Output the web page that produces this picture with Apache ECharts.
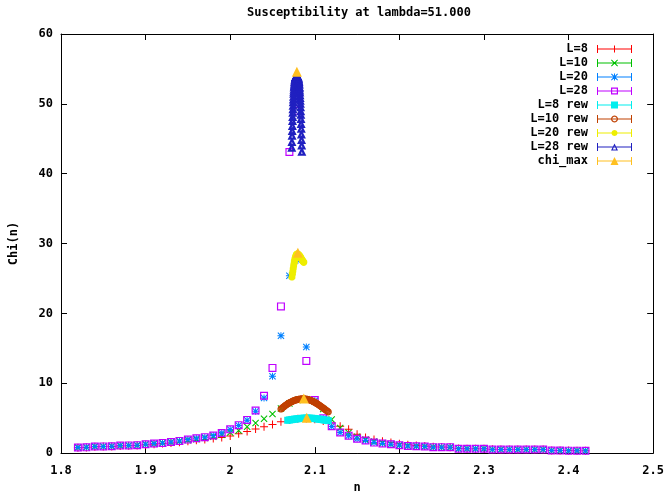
<!DOCTYPE html>
<html><head><meta charset="utf-8">
<script src="https://cdn.jsdelivr.net/npm/echarts@6/dist/echarts.min.js"></script>
<style>html,body{margin:0;padding:0;background:#fff}#c{width:667px;height:499px}</style>
</head><body><div id="c"></div>
<script>
// ---------------- data ----------------
const TITLE = 'Susceptibility at lambda=51.000';
const X_NAME = 'n';
const Y_NAME = 'Chi(n)';
const X_MIN = 1.8, X_MAX = 2.5, X_STEP = 0.1;
const Y_MIN = 0, Y_MAX = 60, Y_STEP = 10;

const N = [1.82,1.83,1.84,1.85,1.86,1.87,1.88,1.89,1.90,1.91,
           1.92,1.93,1.94,1.95,1.96,1.97,1.98,1.99,2.00,2.01,
           2.02,2.03,2.04,2.05,2.06,2.07,2.08,2.09,2.10,2.11,
           2.12,2.13,2.14,2.15,2.16,2.17,2.18,2.19,2.20,2.21,
           2.22,2.23,2.24,2.25,2.26,2.27,2.28,2.29,2.30,2.31,
           2.32,2.33,2.34,2.35,2.36,2.37,2.38,2.39,2.40,2.41,2.42];

const L8 = [0.78,0.80,0.92,0.93,0.94,1.03,1.06,1.09,1.20,1.28,
            1.36,1.46,1.57,1.70,1.83,1.96,2.10,2.25,2.45,2.78,
            3.10,3.45,3.77,4.10,4.50,4.75,4.90,4.95,4.85,4.60,
            4.30,3.85,3.40,2.70,2.25,1.95,1.70,1.50,1.33,1.20,
            1.08,1.00,0.90,0.87,0.85,0.66,0.63,0.62,0.61,0.54,
            0.53,0.52,0.52,0.51,0.51,0.50,0.39,0.37,0.36,0.35,0.34];

const L10 = [0.80,0.82,0.94,0.95,0.97,1.06,1.09,1.13,1.25,1.34,
             1.43,1.55,1.68,1.84,2.00,2.15,2.35,2.62,2.95,3.25,
             3.77,4.30,4.90,5.60,6.40,7.10,7.60,7.70,7.40,6.30,
             4.80,3.60,2.90,2.35,1.95,1.65,1.45,1.30,1.17,1.06,
             1.00,0.96,0.87,0.85,0.84,0.64,0.62,0.62,0.61,0.53,
             0.52,0.52,0.52,0.52,0.51,0.50,0.38,0.36,0.35,0.35,0.33];

const L20 = [0.80,0.82,0.95,0.96,0.97,1.08,1.10,1.14,1.27,1.37,
             1.46,1.60,1.75,1.93,2.12,2.28,2.52,2.87,3.38,3.95,
             4.70,6.00,7.90,11.0,16.8,25.4,27.6,15.2,7.50,4.90,
             3.82,2.95,2.50,2.05,1.80,1.50,1.37,1.27,1.13,1.03,
             0.97,0.95,0.85,0.85,0.85,0.62,0.62,0.62,0.62,0.52,
             0.52,0.52,0.52,0.52,0.52,0.50,0.38,0.36,0.35,0.35,0.33];

const L28 = [0.80,0.82,0.95,0.96,0.97,1.08,1.10,1.14,1.27,1.37,
             1.46,1.60,1.75,1.93,2.12,2.28,2.52,2.87,3.40,4.00,
             4.75,6.10,8.20,12.2,21.0,43.1,49.0,13.2,7.60,5.00,
             3.85,2.95,2.50,2.05,1.80,1.50,1.37,1.27,1.13,1.03,
             0.97,0.95,0.85,0.85,0.85,0.62,0.62,0.62,0.62,0.52,
             0.52,0.52,0.52,0.52,0.52,0.50,0.38,0.36,0.35,0.35,0.33];

// reweighted curves
const N8R = [2.068,2.070,2.072,2.074,2.076,2.078,2.080,2.082,2.084,2.086,2.088,2.090,2.092,
             2.094,2.096,2.098,2.100,2.102,2.104,2.106,2.108,2.110,2.112,2.114,2.116];
const L8R = [4.70,4.74,4.78,4.82,4.86,4.89,4.92,4.95,4.97,4.99,5.00,5.01,5.01,
             5.00,4.99,4.97,4.94,4.91,4.88,4.85,4.81,4.77,4.73,4.69,4.65];

const N10R = [2.060,2.061,2.062,2.063,2.064,2.065,2.066,2.067,2.068,2.069,
              2.070,2.071,2.072,2.073,2.074,2.075,2.076,2.077,2.078,2.079,
              2.080,2.081,2.082,2.083,2.084,2.085,2.086,2.087,2.088,2.089,
              2.090,2.091,2.092,2.093,2.094,2.095,2.096,2.097,2.098,2.099,
              2.100,2.101,2.102,2.103,2.104,2.105,2.106,2.107,2.108,2.109,
              2.110,2.111,2.112,2.113,2.114,2.115,2.116];
const L10R = [6.30,6.40,6.50,6.60,6.70,6.79,6.88,6.96,7.04,7.12,
              7.19,7.26,7.32,7.38,7.44,7.49,7.54,7.58,7.62,7.65,
              7.68,7.70,7.72,7.74,7.75,7.76,7.76,7.76,7.75,7.74,
              7.72,7.70,7.67,7.64,7.60,7.56,7.51,7.46,7.40,7.34,
              7.27,7.20,7.12,7.04,6.96,6.88,6.80,6.71,6.62,6.53,
              6.44,6.35,6.26,6.17,6.08,5.99,5.90];

const N20R = [2.0730,2.0735,2.0740,2.0745,2.0750,2.0755,2.0760,2.0765,2.0770,2.0775,2.0780,2.0785,2.0790,2.0795,2.0800,
              2.0805,2.0810,2.0815,2.0820,2.0825,2.0830,2.0835,2.0840,2.0845,2.0850,2.0855,2.0860,2.0865,2.0870];
const L20R = [25.2,25.6,26.0,26.4,26.8,27.15,27.45,27.75,28.0,28.2,28.35,28.45,28.5,28.52,28.5,
              28.46,28.4,28.33,28.25,28.16,28.06,27.96,27.86,27.76,27.66,27.56,27.47,27.38,27.3];

const N28R = [
 2.07280,2.07297,2.07314,2.07331,2.07348,2.07365,2.07382,2.07399,2.07416,2.07433,
 2.07450,2.07467,2.07484,2.07501,2.07518,2.07535,2.07552,2.07569,2.07586,2.07603,
 2.07620,2.07637,2.07654,2.07671,2.07688,2.07705,2.07722,2.07739,2.07756,2.07773,
 2.07790,2.07807,2.07824,2.07841,2.07858,2.07875,2.07892,2.07909,2.07926,2.07943,
 2.07960,2.07977,2.07994,2.08011,2.08028,2.08045,2.08062,2.08079,2.08096,2.08113,
 2.08130,2.08147,2.08164,2.08181,2.08198,2.08215,2.08232,2.08249,2.08266,2.08283,
 2.08300,2.08317,2.08334,2.08351,2.08368,2.08385,2.08402,2.08419,2.08436,2.08453,
 2.08470];
const L28R = [
 43.8,44.6,45.5,46.2,46.9,47.6,48.2,48.8,49.3,49.8,
 50.3,50.7,51.1,51.5,51.8,52.1,52.4,52.6,52.8,53.0,
 53.2,53.3,53.5,53.6,53.7,53.8,53.8,53.9,53.9,53.9,
 54.0,54.0,54.0,54.0,54.0,54.0,54.0,54.0,54.0,54.0,
 54.0,53.9,53.9,53.9,53.8,53.7,53.7,53.6,53.4,53.3,
 53.2,53.0,52.8,52.5,52.3,52.0,51.7,51.3,50.9,50.5,
 50.1,49.6,49.0,48.5,47.9,47.2,46.5,45.7,44.9,44.1,
 43.2];

const NMAX = [2.0905, 2.0870, 2.0800, 2.0788];
const CHIMAX = [5.05, 7.80, 28.7, 54.6];

const NAMES = ['L=8','L=10','L=20','L=28','L=8 rew','L=10 rew','L=20 rew','L=28 rew','chi_max'];
const COLORS = ['#ff0000','#00c000','#0080ff','#c000ff','#00eeee','#c04000','#eeee00','#2020c0','#ffc020'];

// ---------------- marker shapes (filled paths) ----------------
function f(v){return (Math.round(v*100)/100).toString();}
function poly(p){return 'M'+p.map(q=>f(q[0])+','+f(q[1])).join('L')+'Z';}
function rect(x,y,w,h){return poly([[x,y],[x+w,y],[x+w,y+h],[x,y+h]]);}
function circ(cx,cy,r,rev){const a=[];const n=20;for(let k=0;k<n;k++){const t=(rev?-1:1)*2*Math.PI*k/n;a.push([cx+r*Math.cos(t),cy+r*Math.sin(t)]);}return a;}
function otriT(x,y,s,t){return poly([[x+s/2,y],[x+s,y+s],[x,y+s]])+poly([[x+s/2,y+2.2*t],[x+1.8*t,y+s-t],[x+s-1.8*t,y+s-t]]);}
const SHAPES = {
  plus:(x,y,s)=>rect(x,y+s/2-0.5,s,1)+rect(x+s/2-0.5,y,1,s),
  cross:(x,y,s)=>{const d=0.75;return poly([[x,y+d],[x+d,y],[x+s,y+s-d],[x+s-d,y+s]])+poly([[x+s-d,y],[x+s,y+d],[x+d,y+s],[x,y+s-d]]);},
  star:(x,y,s)=>SHAPES.plus(x,y,s)+SHAPES.cross(x,y,s),
  osq:(x,y,s)=>{const t=1.2;return rect(x,y,s,s)+poly([[x+t,y+t],[x+t,y+s-t],[x+s-t,y+s-t],[x+s-t,y+t]]);},
  fsq:(x,y,s)=>rect(x,y,s,s),
  ocirc:(x,y,s)=>poly(circ(x+s/2,y+s/2,s/2,false))+poly(circ(x+s/2,y+s/2,s/2-1.2,true)),
  fcirc:(x,y,s)=>poly(circ(x+s/2,y+s/2,s/2,false)),
  otri:(x,y,s)=>otriT(x,y,s,1),
  ftri:(x,y,s)=>poly([[x+s/2,y],[x+s,y+s],[x,y+s]])
};
const MARK = ['plus','cross','star','osq','fsq','ocirc','fcirc','otri','ftri'];
const MSIZE = [8,7,7,8,7,7,7,9,10];
const LSIZE = [7,7,7,7,7,7,6,7,8];

function legendIcon(i){
  const W=35,H=8,s=LSIZE[i];
  const base = rect(0,0,1,H)+rect(W-1,0,1,H)+rect(0,H/2-0.5,W,1);
  return 'path://'+base+SHAPES[MARK[i]](W/2-s/2,H/2-s/2,s);
}
function markerPath(i){
  if (MARK[i]==='otri') return 'path://'+otriT(0,0,MSIZE[i],2.1);
  return 'path://'+SHAPES[MARK[i]](0,0,MSIZE[i]);
}

const XS = [N,N,N,N,N8R,N10R,N20R,N28R,NMAX];
const YS = [L8,L10,L20,L28,L8R,L10R,L20R,L28R,CHIMAX];

const FONT = 'DejaVu Sans Mono';
const txt = {color:'#000',fontFamily:FONT,fontSize:12,fontWeight:'bold'};

const series = NAMES.map((nm,i)=>({
  name:nm, type:'scatter', silent:true,
  symbol:markerPath(i),
  symbolSize:MSIZE[i],
  itemStyle:{color:COLORS[i],opacity:1},
  data:XS[i].map((x,k)=>[x,YS[i][k]])
}));

function axisCommon(){
  return {axisLine:{show:true,onZero:false,lineStyle:{color:'#000',width:1}},
          axisTick:{show:true,inside:true,length:6,lineStyle:{color:'#000',width:1}},
          splitLine:{show:false}};
}

const chart = echarts.init(document.getElementById('c'),null,{renderer:'canvas'});
chart.setOption({
  animation:false,
  backgroundColor:'#fff',
  title:{text:TITLE,left:242,top:2,textStyle:Object.assign({},txt)},
  grid:{left:58,right:13,top:34,bottom:40,containLabel:false},
  legend:{orient:'vertical',right:30,top:38,align:'right',itemWidth:35,itemHeight:8,itemGap:2,
    selectedMode:false,textStyle:Object.assign({padding:[0,4,0,0]},txt),
    data:NAMES.map((nm,i)=>({name:nm,icon:legendIcon(i),itemStyle:{color:COLORS[i],borderWidth:0}}))},
  xAxis:[
    Object.assign(axisCommon(),{type:'value',position:'bottom',min:X_MIN,max:X_MAX,interval:X_STEP,
      axisLabel:Object.assign({margin:12},txt),
      name:X_NAME,nameLocation:'middle',nameGap:26,nameTextStyle:Object.assign({},txt)}),
    Object.assign(axisCommon(),{type:'value',position:'top',min:X_MIN,max:X_MAX,interval:X_STEP,axisLabel:{show:false}})
  ],
  yAxis:[
    Object.assign(axisCommon(),{type:'value',position:'left',min:Y_MIN,max:Y_MAX,interval:Y_STEP,
      axisLabel:Object.assign({margin:8},txt),
      name:Y_NAME,nameLocation:'middle',nameRotate:90,nameGap:41,nameTextStyle:Object.assign({},txt)}),
    Object.assign(axisCommon(),{type:'value',position:'right',min:Y_MIN,max:Y_MAX,interval:Y_STEP,axisLabel:{show:false}})
  ],
  series:series
});
</script>
</body></html>
